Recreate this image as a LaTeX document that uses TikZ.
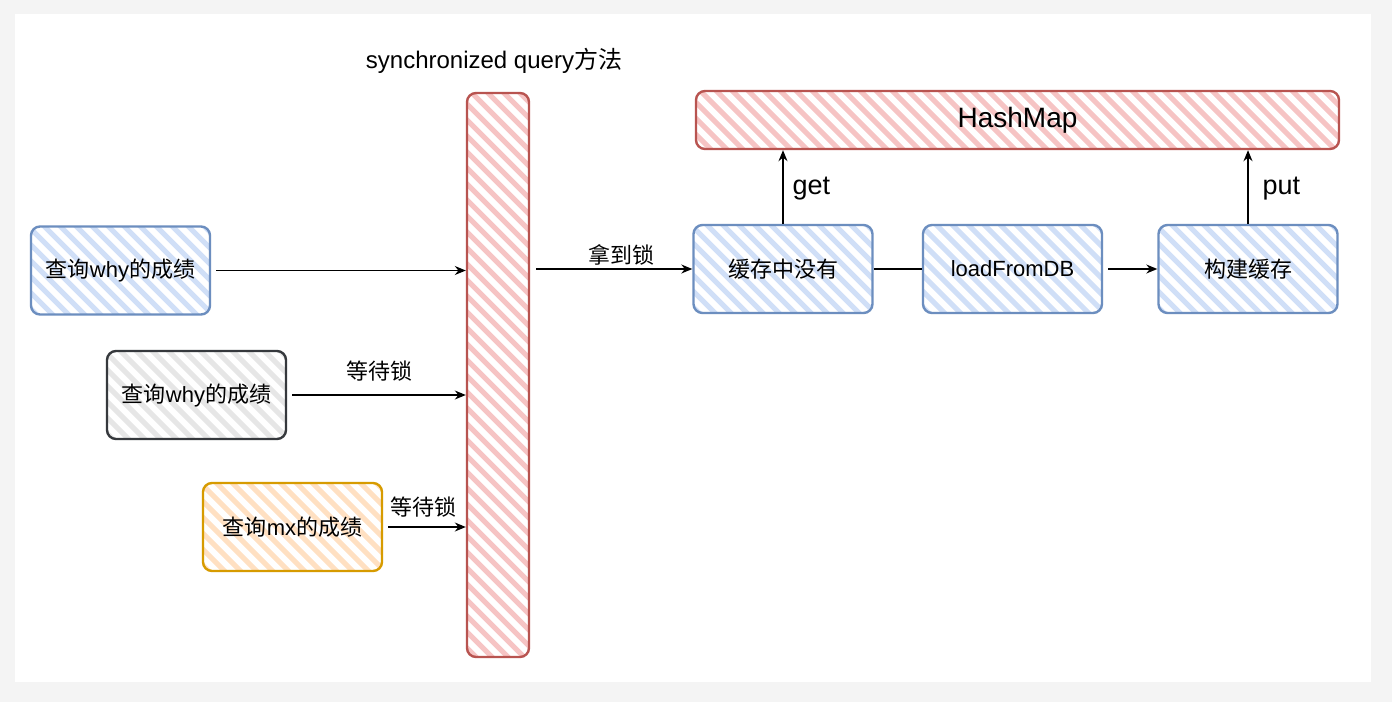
\documentclass[tikz,border=0pt]{standalone}
\usepackage{fontspec}
\setmainfont{Liberation Sans}
\newfontfamily\zhfont{Noto Sans CJK SC}
\newcommand\zh[1]{{\zhfont #1}}
\usetikzlibrary{arrows.meta}
\definecolor{outerbg}{HTML}{F4F4F4}
\definecolor{blueS}{HTML}{6C8EBF}
\definecolor{blueF}{HTML}{D0DFF7}
\definecolor{redS}{HTML}{B85450}
\definecolor{redF}{HTML}{F6C4C4}
\definecolor{grayS}{HTML}{36393D}
\definecolor{grayF}{HTML}{E6E6E6}
\definecolor{orangeS}{HTML}{D79B00}
\definecolor{orangeF}{HTML}{FFE0C2}
\tikzset{
  hatched/.style={path picture={
    \foreach \i in {-448,-432,...,448}
      \draw[line width=5pt,#1]
        ([xshift=\i pt-420pt,yshift=420pt]path picture bounding box.center)
        -- ++(840pt,-840pt);
  }},
  sbox/.style 2 args={draw=#2, hatched=#1, line width=2.4pt, rounded corners=9pt,
    minimum width=179pt, minimum height=88pt, inner sep=0pt,
    font=\fontsize{22}{26}\selectfont, text=black},
  arr/.style={draw=black, line width=1.3pt, -{Stealth[length=11pt,width=9pt]}},
  plain/.style={draw=black, line width=1.3pt},
  lbl/.style={font=\fontsize{22}{26}\selectfont, text=black, inner sep=0pt},
  biglbl/.style={font=\fontsize{27}{30}\selectfont, text=black, inner sep=0pt},
}
\begin{document}
\begin{tikzpicture}[x=1pt,y=-1pt]
\fill[outerbg] (0,0) rectangle (1392,702);
\useasboundingbox (0,0) rectangle (1392,702);
\fill[white] (15,14) rectangle (1371,682);

% title
\node[font=\fontsize{24}{28}\selectfont, inner sep=0pt] (title) at (494,61) {synchronized query\zh{方法}};

% lock bar
\node[draw=redS, hatched=redF, line width=2.4pt, rounded corners=9pt,
      minimum width=62pt, minimum height=564pt, inner sep=0pt] (bar) at (498,375) {};

% hashmap
\node[draw=redS, hatched=redF, line width=2.4pt, rounded corners=9pt,
      minimum width=643pt, minimum height=58pt, inner sep=0pt,
      font=\fontsize{28}{32}\selectfont] (hm) at (1017.5,120) {HashMap};

% query boxes
\node[sbox={blueF}{blueS}] (q1) at (120.5,270.5) {\zh{查询}why\zh{的成绩}};
\node[sbox={grayF}{grayS}] (q2) at (196.5,395) {\zh{查询}why\zh{的成绩}};
\node[sbox={orangeF}{orangeS}] (q3) at (292.5,527) {\zh{查询}mx\zh{的成绩}};

% cache flow boxes
\node[sbox={blueF}{blueS}] (c1) at (783,269) {\zh{缓存中没有}};
\node[sbox={blueF}{blueS}] (c2) at (1012.5,269) {loadFromDB};
\node[sbox={blueF}{blueS}] (c3) at (1248,269) {\zh{构建缓存}};

% connectors
\draw[arr] ([xshift=5pt]q1.east) -- (q1.east -| bar.west);
\draw[arr] ([xshift=5pt]q2.east) -- (q2.east -| bar.west)
   node[lbl, midway, above=13pt] (l2) {\zh{等待锁}};
\draw[arr] ([xshift=5pt]q3.east) -- (q3.east -| bar.west)
   node[lbl, midway, above=9pt, xshift=-4pt] (l3) {\zh{等待锁}};
\draw[arr] ([xshift=6pt]bar.east |- c1.west) -- (c1.west)
   node[lbl, midway, above=3pt, xshift=7pt] (l1) {\zh{拿到锁}};
\draw[plain] (c1.east) -- (c2.west);
\draw[arr] ([xshift=5pt]c2.east) -- (c3.west);
\draw[arr] (c1.north) -- (c1.north |- hm.south)
   node[biglbl, pos=0.48, right=9pt] (lget) {get};
\draw[arr] (c3.north) -- (c3.north |- hm.south)
   node[biglbl, pos=0.48, right=14pt] (lput) {put};
\end{tikzpicture}
\end{document}
